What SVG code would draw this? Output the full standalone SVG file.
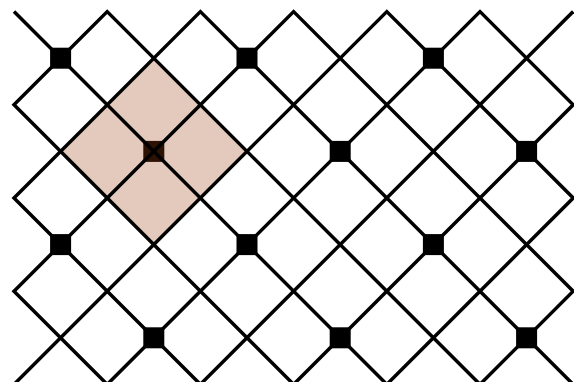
<svg xmlns="http://www.w3.org/2000/svg" width="574" height="382" viewBox="0 0 574 382">
<style>
.bg{fill:#ffffff}
.sq{fill:#000000}
.shade{fill:#9c410f;fill-opacity:0.28}
.ln{fill:none;stroke:#000000;stroke-width:3.5;stroke-linejoin:miter;stroke-miterlimit:10}
</style>
<rect class="bg" x="0" y="0" width="574" height="382"/>
<g id="nodes">
<g id="n1"><rect class="sq" x="50.1" y="47.7" width="21" height="21"/></g>
<g id="n2"><rect class="sq" x="236.5" y="47.7" width="21" height="21"/></g>
<g id="n3"><rect class="sq" x="422.9" y="47.7" width="21" height="21"/></g>
<g id="n4"><rect class="sq" x="143.3" y="140.9" width="21" height="21"/></g>
<g id="n5"><rect class="sq" x="329.7" y="140.9" width="21" height="21"/></g>
<g id="n6"><rect class="sq" x="516.1" y="140.9" width="21" height="21"/></g>
<g id="n7"><rect class="sq" x="50.1" y="234.1" width="21" height="21"/></g>
<g id="n8"><rect class="sq" x="236.5" y="234.1" width="21" height="21"/></g>
<g id="n9"><rect class="sq" x="422.9" y="234.1" width="21" height="21"/></g>
<g id="n10"><rect class="sq" x="143.3" y="327.3" width="21" height="21"/></g>
<g id="n11"><rect class="sq" x="329.7" y="327.3" width="21" height="21"/></g>
<g id="n12"><rect class="sq" x="516.1" y="327.3" width="21" height="21"/></g>
</g>
<g id="shaded-region">
<polygon class="shade" points="153.8,58.2 247,151.4 153.8,244.6 60.6,151.4"/>
</g>
<g id="connectors">
<polyline class="ln" points="60.6,431 14,384.4 386.8,11.6 573.2,198 340.2,431"/>
<polyline class="ln" points="153.8,431 14,291.2 293.6,11.6 573.2,291.2 433.4,431"/>
<polyline class="ln" points="247,431 14,198 200.4,11.6 573.2,384.4 526.6,431"/>
<polyline class="ln" points="340.2,431 14,104.8 107.2,11.6 526.6,431"/>
<polyline class="ln" points="14,11.6 433.4,431"/>
<polyline class="ln" points="60.6,431 480,11.6 573.2,104.8 247,431"/>
<polyline class="ln" points="573.2,11.6 153.8,431"/>
</g>
</svg>
